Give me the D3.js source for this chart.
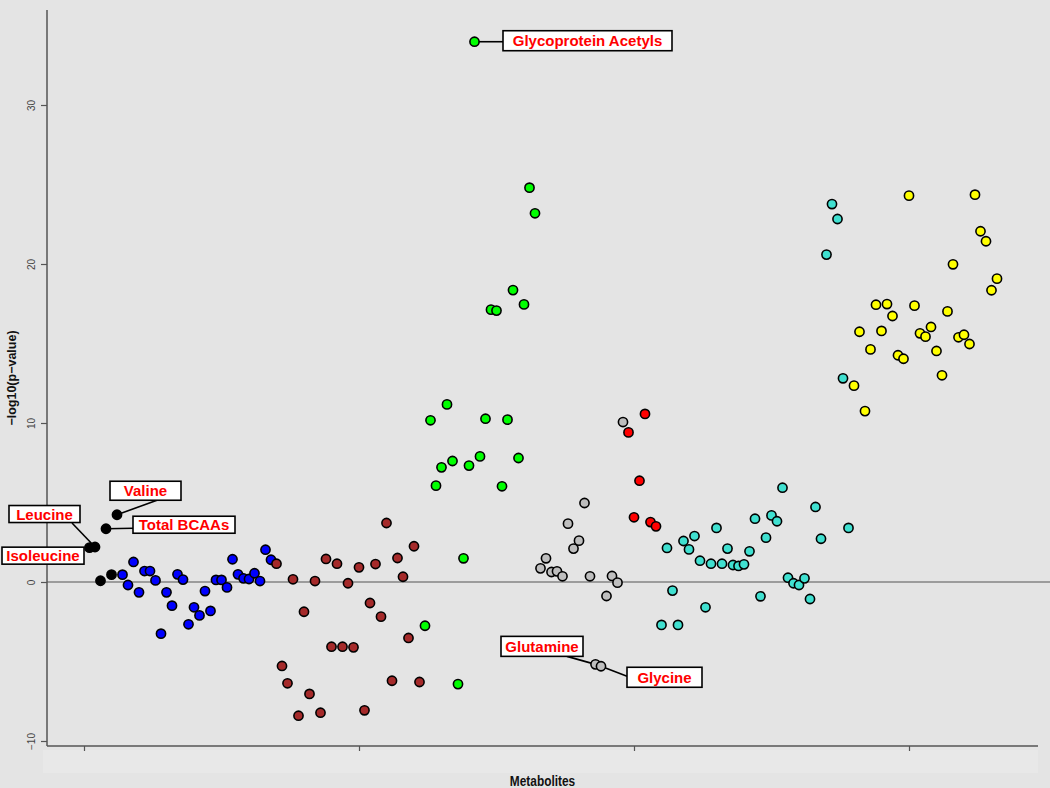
<!DOCTYPE html>
<html>
<head>
<meta charset="utf-8">
<script src="https://cdn.jsdelivr.net/npm/d3@7"></script>
<style>
  html, body { margin: 0; padding: 0; background: #e4e4e4; }
  svg { display: block; }
</style>
</head>
<body>
<div id="chart"></div>
<script>
// Metabolite groups, in plotting order (index runs on from one group to the next)
const groups = ['bcaa', 'aromatic', 'lipidA', 'inflammation', 'aminoAcids', 'ketone', 'lipidB', 'fattyAcids'];
const groupColors = ['#000000', '#0000ff', '#a52a2a', '#00ff00', '#bebebe', '#ff0000', '#40e0d0', '#ffff00'];

// -log10(p-value) for each metabolite
const bcaaValues = [2.16, 2.2, 0.08, 3.35, 0.46, 4.23];
const aromaticValues = [0.46, -0.19, 1.26, -0.65, 0.69, 0.69, 0.1, -3.25, -0.65, -1.49, 0.48, 0.15, -2.66, -1.59,
  -2.1, -0.57, -1.82, 0.13, 0.13, -0.34, 1.43, 0.48, 0.23, 0.19, 0.55, 0.06, 2.03, 1.4];
const lipidAValues = [1.15, -5.28, -6.37, 0.17, -8.41, -1.87, -7.04, 0.06, -8.22, 1.45, -4.07, 1.15, -4.07, -0.08,
  -4.11, 0.92, -8.07, -1.32, 1.13, -2.18, 3.71, -6.21, 1.51, 0.33, -3.52, 2.25, -6.29];
const inflammationValues = [-2.75, 10.17, 6.06, 7.21, 11.17, 7.61, -6.42, 1.49, 7.32, 33.98, 7.9, 10.27, 17.13, 17.07,
  6.02, 10.21, 18.36, 7.8, 17.46, 24.8, 23.19];
const aminoAcidValues = [0.86, 1.49, 0.63, 0.67, 0.36, 3.67, 2.1, 2.6, 4.97, 0.36, -5.18, -5.3, -0.88, 0.38, -0.04, 10.06];
const ketoneValues = [9.41, 4.07, 6.37, 10.57, 3.77, 3.5];
const lipidBValues = [-2.7, 2.14, -0.54, -2.7, 2.58, 2.05, 2.89, 1.34, -1.59, 1.15, 3.4, 1.15, 2.1, 1.07, 1.01, 1.11,
  1.93, 3.98, -0.9, 2.79, 4.19, 3.82, 5.93, 0.27, -0.08, -0.19, 0.23, -1.07, 4.72, 2.72, 20.59, 23.77, 22.83, 12.81, 3.4];
const fattyAcidValues = [12.35, 15.74, 10.75, 14.63, 17.44, 15.79, 17.48, 16.73, 14.26, 14.04, 24.3, 17.38, 15.64,
  15.43, 16.04, 14.53, 13.0, 17.02, 19.98, 15.39, 15.55, 14.97, 24.36, 22.06, 21.43, 18.35, 19.08];

const groupValues = [bcaaValues, aromaticValues, lipidAValues, inflammationValues, aminoAcidValues,
  ketoneValues, lipidBValues, fattyAcidValues];

// Named metabolites (1-based plotting index)
const labelNames = ['Isoleucine', 'Leucine', 'Total BCAAs', 'Valine', 'Glycoprotein Acetyls', 'Glutamine', 'Glycine'];
const labelIndex = [1, 2, 4, 6, 71, 93, 94];

const xTicks = [0, 50, 100, 150];
const yTicks = [-10, 0, 10, 20, 30];

// Label box layout: box centre offset from the point, box size, leader line end offset (null = no leader)
const LABEL_LAYOUT = {
  'Isoleucine':           { dx: -46.5, dy: 8,   w: 82,  h: 17, lx: null, ly: null },
  'Leucine':              { dx: -50.5, dy: -33, w: 71,  h: 17, lx: -23,  ly: -24 },
  'Total BCAAs':          { dx: 78,    dy: -4,  w: 102, h: 17, lx: 27,   ly: -0.5 },
  'Valine':               { dx: 28.5,  dy: -24, w: 71,  h: 19, lx: 40,   ly: -14.5 },
  'Glycoprotein Acetyls': { dx: 113,   dy: -1,  w: 169, h: 20, lx: 28.5, ly: 0 },
  'Glutamine':            { dx: -53.5, dy: -18, w: 82,  h: 20, lx: -28.5, ly: -8 },
  'Glycine':              { dx: 63.5,  dy: 11,  w: 75,  h: 20, lx: 26,   ly: 10 }
};

const CONFIG = {
  width: 1050,
  height: 788,
  axisLeft: 47,
  axisRight: 1038,
  axisTop: 10,
  axisBottom: 746,
  radius: 4.6
};

// Build one flat list of points, index running across groups
const points = [];
let idx = 1;
groupValues.forEach((vals, g) => {
  vals.forEach(v => {
    points.push({ i: idx, value: v, group: groups[g], color: groupColors[g] });
    idx++;
  });
});

const svg = d3.select('#chart')
  .append('svg')
  .attr('width', CONFIG.width)
  .attr('height', CONFIG.height);

svg.append('rect')
  .attr('width', CONFIG.width)
  .attr('height', CONFIG.height)
  .attr('fill', '#e4e4e4');

// faint lighter band under the x axis
svg.append('rect')
  .attr('x', 43).attr('y', 750)
  .attr('width', 995).attr('height', 23)
  .attr('fill', '#e8e8e8');

const x = d3.scaleLinear().domain([0, 150]).range([84, 909]);
const y = d3.scaleLinear().domain([-10, 30]).range([741, 105]);

// y axis
const yAxis = svg.append('g')
  .attr('transform', `translate(${CONFIG.axisLeft},0)`)
  .call(d3.axisLeft(y).tickValues(yTicks).tickSize(6).tickSizeOuter(0));
yAxis.select('.domain').remove();
yAxis.selectAll('.tick line').attr('stroke', '#555').attr('stroke-width', 1.2);
yAxis.selectAll('.tick text')
  .attr('x', null).attr('dy', null)
  .attr('transform', 'translate(-15,0) rotate(-90)')
  .attr('text-anchor', 'middle')
  .attr('dominant-baseline', 'middle')
  .attr('fill', '#444')
  .style('font-family', 'Liberation Sans, Arial, sans-serif')
  .style('font-size', '10px')
  .text(d => d < 0 ? '\u2212' + Math.abs(d) : d);

svg.append('line')
  .attr('x1', CONFIG.axisLeft).attr('x2', CONFIG.axisLeft)
  .attr('y1', CONFIG.axisTop).attr('y2', CONFIG.axisBottom)
  .attr('stroke', '#555').attr('stroke-width', 1.5);

// x axis (ticks, no labels)
const xAxis = svg.append('g')
  .attr('transform', `translate(0,${CONFIG.axisBottom})`)
  .call(d3.axisBottom(x).tickValues(xTicks).tickSize(5).tickFormat(''));
xAxis.select('.domain').remove();
xAxis.selectAll('.tick line').attr('stroke', '#555').attr('stroke-width', 1.2);

svg.append('line')
  .attr('x1', CONFIG.axisLeft).attr('x2', CONFIG.axisRight)
  .attr('y1', CONFIG.axisBottom).attr('y2', CONFIG.axisBottom)
  .attr('stroke', '#555').attr('stroke-width', 1.5);

// zero reference line
svg.append('line')
  .attr('x1', CONFIG.axisLeft).attr('x2', CONFIG.width)
  .attr('y1', y(0)).attr('y2', y(0))
  .attr('stroke', '#555').attr('stroke-width', 1.2);

// axis titles
svg.append('text')
  .attr('transform', `translate(13,${(CONFIG.axisTop + CONFIG.axisBottom) / 2}) rotate(-90)`)
  .attr('text-anchor', 'middle')
  .attr('dominant-baseline', 'middle')
  .style('font-family', 'Liberation Sans, Arial, sans-serif')
  .style('font-weight', 'bold')
  .style('font-size', '12.5px')
  .attr('fill', '#111')
  .text('\u2212log10(p\u2212value)');

// condensed look, as in the original
svg.append('text')
  .attr('transform', `translate(${(CONFIG.axisLeft + CONFIG.axisRight) / 2},786) scale(0.82,1)`)
  .attr('text-anchor', 'middle')
  .style('font-family', 'Liberation Sans, Arial, sans-serif')
  .style('font-weight', 'bold')
  .style('font-size', '14.5px')
  .attr('fill', '#111')
  .text('Metabolites');

// leader lines
const labelled = labelNames.map((name, k) => {
  const p = points.find(d => d.i === labelIndex[k]);
  return { name, p, layout: LABEL_LAYOUT[name] };
});

svg.append('g').selectAll('line')
  .data(labelled.filter(d => d.layout.lx !== null))
  .enter()
  .append('line')
  .attr('x1', d => x(d.p.i))
  .attr('y1', d => y(d.p.value))
  .attr('x2', d => x(d.p.i) + d.layout.lx)
  .attr('y2', d => y(d.p.value) + d.layout.ly)
  .attr('stroke', '#000')
  .attr('stroke-width', 1.6);

// points
svg.append('g').selectAll('circle')
  .data(points)
  .enter()
  .append('circle')
  .attr('cx', d => x(d.i))
  .attr('cy', d => y(d.value))
  .attr('r', CONFIG.radius)
  .attr('fill', d => d.color)
  .attr('stroke', '#000')
  .attr('stroke-width', 1.6);

// boxed labels
const lab = svg.append('g').selectAll('g')
  .data(labelled)
  .enter()
  .append('g')
  .attr('transform', d => `translate(${x(d.p.i) + d.layout.dx},${y(d.p.value) + d.layout.dy})`);

lab.append('rect')
  .attr('x', d => -d.layout.w / 2)
  .attr('y', d => -d.layout.h / 2)
  .attr('width', d => d.layout.w)
  .attr('height', d => d.layout.h)
  .attr('fill', '#fff')
  .attr('stroke', '#000')
  .attr('stroke-width', 1.6);

lab.append('text')
  .attr('text-anchor', 'middle')
  .attr('dominant-baseline', 'central')
  .attr('fill', '#ff0000')
  .style('font-family', 'Liberation Sans, Arial, sans-serif')
  .style('font-weight', 'bold')
  .style('font-size', '15px')
  .text(d => d.name);
</script>
</body>
</html>
